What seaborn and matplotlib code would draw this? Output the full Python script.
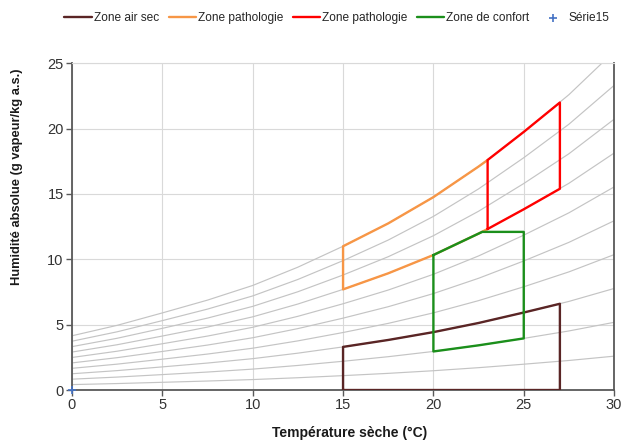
import matplotlib
matplotlib.use("Agg")
import matplotlib.pyplot as plt
import seaborn as sns
import pandas as pd

# ---- data ----
temps = [0, 2.5, 5, 7.5, 10, 12.5, 15, 17.5, 20, 22.5, 25, 27.5, 30]
sat_w = [4.15, 4.95, 5.9, 6.88, 8.0, 9.4, 11.0, 12.75, 14.76, 17.1, 19.75, 22.6, 25.9]
rh_levels = [0.1, 0.2, 0.3, 0.4, 0.5, 0.6, 0.7, 0.8, 0.9, 1.0]

brown_T = [15, 15, 17.5, 20, 22.5, 25, 27, 27, 15]
brown_w = [0, 3.3, 3.83, 4.43, 5.13, 5.93, 6.6, 0, 0]

orange_T = [23, 22.5, 20, 17.5, 15, 15, 17.5, 20, 22.5, 23]
orange_w = [17.6, 17.1, 14.76, 12.75, 11.0, 7.7, 8.93, 10.33, 11.97, 12.32]

red_T = [23, 23, 25, 27, 27, 25, 23]
red_w = [12.32, 17.6, 19.75, 22.0, 15.4, 13.83, 12.32]

green_T = [20, 22.5, 22.7, 25, 25, 22.5, 20, 20]
green_w = [10.33, 11.97, 12.1, 12.1, 3.95, 3.42, 2.95, 10.33]

serie15_T = [0]
serie15_w = [0]

labels = ["Zone air sec", "Zone pathologie", "Zone pathologie", "Zone de confort", "Série15"]
x_ticks = [0, 5, 10, 15, 20, 25, 30]
y_ticks = [0, 5, 10, 15, 20, 25]

# ---- style ----
sns.set_theme(style="white")
plt.rcParams["font.family"] = ["Liberation Sans", "DejaVu Sans"]

fig = plt.figure(figsize=(6.26, 4.43), dpi=100)
ax = fig.add_axes([0.115, 0.1196, 0.866, 0.7375])

# humidity curves
rows = []
for rh in rh_levels:
    for t, s in zip(temps, sat_w):
        rows.append({"T": t, "w": rh * s, "rh": rh})
curves = pd.DataFrame(rows)
sns.lineplot(data=curves, x="T", y="w", units="rh", estimator=None,
             color="#C4C4C4", lw=0.85, ax=ax, legend=False, zorder=2)

zones = [
    (brown_T, brown_w, "#5a2525", labels[0]),
    (orange_T, orange_w, "#F79646", labels[1]),
    (red_T, red_w, "#FF0000", labels[2]),
    (green_T, green_w, "#1b8f1b", labels[3]),
]
for i, (tx, wy, col, lab) in enumerate(zones):
    df = pd.DataFrame({"T": tx, "w": wy})
    sns.lineplot(data=df, x="T", y="w", sort=False, estimator=None,
                 color=col, lw=1.7, ax=ax, label=lab, zorder=4 + i)

sns.scatterplot(x=serie15_T, y=serie15_w, marker="+", color="#4472C4",
                s=40, linewidth=1.2, ax=ax, label=labels[4], zorder=10, clip_on=False)

ax.set_xlim(0, 30)
ax.set_ylim(0, 25)
ax.set_xticks(x_ticks)
ax.set_yticks(y_ticks)
ax.grid(True, color="#D9D9D9", lw=0.8)
ax.set_axisbelow(True)

for side in ["left", "bottom", "right"]:
    ax.spines[side].set_color("#595959")
    ax.spines[side].set_linewidth(1.3)
ax.spines["top"].set_color("#D9D9D9")
ax.spines["top"].set_linewidth(0.8)

ax.tick_params(axis="both", which="major", labelsize=10.5, colors="#595959",
               labelcolor="#333333", length=4, width=1, direction="out",
               bottom=True, left=True, pad=2)

ax.set_xlabel("Température sèche (°C)", fontsize=10, fontweight="bold", color="#1a1a1a")
ax.set_ylabel("Humidité absolue (g vapeur/kg a.s.)", fontsize=9.3, fontweight="bold", color="#1a1a1a")
ax.xaxis.set_label_coords(0.513, -0.11)
ax.yaxis.set_label_coords(-0.09, 0.652)

handles, labs = ax.get_legend_handles_labels()
ax.get_legend().remove()
fig.legend(handles, labs, loc="center", bbox_to_anchor=(0.538, 0.959), ncol=5,
           frameon=False, fontsize=8.6, handlelength=2.3, handletextpad=0.15,
           columnspacing=0.8, borderaxespad=0)

fig.savefig("out.png", dpi=100)
